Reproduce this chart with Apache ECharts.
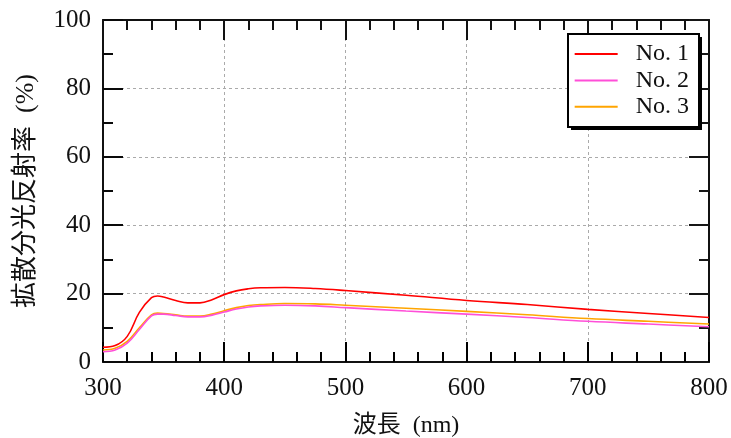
<!DOCTYPE html>
<html>
<head>
<meta charset="utf-8">
<script src="https://cdn.jsdelivr.net/npm/echarts@6/dist/echarts.min.js"></script>
<style>html,body{margin:0;padding:0;background:#fff}#c{width:731px;height:438px}</style>
</head>
<body>
<div id="c"></div>
<script>
const wavelengths = [300, 310, 320, 330, 340, 345, 350, 360, 370, 380, 390, 400, 410, 420, 430, 450, 475, 500, 550, 600, 650, 700, 750, 800];
const no1 = [4.3, 4.8, 7.5, 14.5, 18.8, 19.3, 19.0, 18.0, 17.3, 17.3, 18.2, 19.7, 20.8, 21.4, 21.7, 21.8, 21.5, 20.9, 19.5, 18.0, 16.8, 15.4, 14.2, 13.0];
const no2 = [3.0, 3.5, 5.5, 9.5, 13.5, 14.0, 14.0, 13.6, 13.2, 13.2, 13.7, 14.6, 15.5, 16.1, 16.4, 16.6, 16.4, 15.9, 14.9, 14.0, 13.0, 11.9, 11.1, 10.3];
const no3 = [3.5, 4.0, 6.0, 10.0, 13.8, 14.3, 14.2, 13.8, 13.4, 13.4, 14.0, 15.0, 15.9, 16.5, 16.8, 17.1, 17.0, 16.6, 15.7, 14.8, 13.8, 12.7, 11.9, 11.1];
const seriesNames = ['No. 1', 'No. 2', 'No. 3'];
const seriesColors = ['#ff0000', '#ff4fd8', '#ffa500'];
const xName = '波長  (nm)';
const yName = '拡散分光反射率  (%)';

const FONT = "'Liberation Serif', 'Noto Sans CJK JP', serif";
const pair = (ys) => wavelengths.map((w, i) => [w, ys[i]]);
const allData = [no1, no2, no3];

function frameAxis(extra, minorSplit, col) {
  return Object.assign({
    type: 'value',
    axisLine: { show: true, onZero: false, lineStyle: { color: '#111', width: 2 } },
    axisTick: { show: true, inside: true, length: 20, lineStyle: { color: col, width: 2 } },
    minorTick: { show: true, splitNumber: minorSplit, length: 10, lineStyle: { color: col, width: 2 } },
    axisLabel: { show: false },
    splitLine: { show: false }
  }, extra);
}

const chart = echarts.init(document.getElementById('c'), null, { renderer: 'canvas' });
chart.setOption({
  backgroundColor: '#fff',
  animation: false,
  grid: { left: 103, right: 22, top: 20, bottom: 76, containLabel: false, outerBoundsMode: 'none' },
  graphic: [
    { type: 'rect', z: 3.5, left: 571, top: 37, shape: { width: 131, height: 93 }, style: { fill: '#000' } },
    { type: 'rect', z: 3.6, left: 567, top: 33, shape: { width: 131, height: 93 }, style: { fill: '#fff', stroke: '#000', lineWidth: 2 } }
  ],
  legend: {
    data: seriesNames,
    orient: 'vertical',
    right: 33,
    top: 33,
    padding: [9, 9, 6, 10],
    icon: 'rect',
    itemWidth: 43,
    itemHeight: 2,
    itemGap: 2.4,
    textStyle: { fontFamily: FONT, fontSize: 24, color: '#111', padding: [0, 0, 0, 13] }
  },
  xAxis: [
    frameAxis({
      min: 300, max: 800, interval: 100, position: 'bottom',
      name: xName, nameLocation: 'middle', nameGap: 52,
      nameTextStyle: { fontFamily: FONT, fontSize: 24, color: '#111' },
      axisLabel: { show: true, fontFamily: FONT, fontSize: 25, color: '#111', margin: 14 },
      splitLine: { show: true, lineStyle: { color: '#aaa', type: [3, 3], width: 1 } }
    }, 5, '#000000'),
    frameAxis({ min: 300, max: 800, interval: 100, position: 'top' }, 5, '#121212')
  ],
  yAxis: [
    frameAxis({
      min: 0, max: 100, interval: 20, position: 'left',
      name: yName, nameLocation: 'middle', nameGap: 64,
      nameTextStyle: { fontFamily: FONT, fontSize: 26, color: '#111' },
      axisLabel: { show: true, fontFamily: FONT, fontSize: 25, color: '#111', margin: 12 },
      splitLine: { show: true, lineStyle: { color: '#aaa', type: [3, 3], width: 1 } }
    }, 2, '#0a0a0a'),
    frameAxis({ min: 0, max: 100, interval: 20, position: 'right' }, 2, '#161616')
  ],
  series: seriesNames.map((name, i) => ({
    name: name,
    type: 'line',
    xAxisIndex: 0,
    yAxisIndex: 0,
    data: pair(allData[i]),
    smooth: 0.4,
    symbol: 'none',
    z: 3 - i * 0.1,
    color: seriesColors[i],
    lineStyle: { color: seriesColors[i], width: 1.6 }
  }))
});
</script>
</body>
</html>
